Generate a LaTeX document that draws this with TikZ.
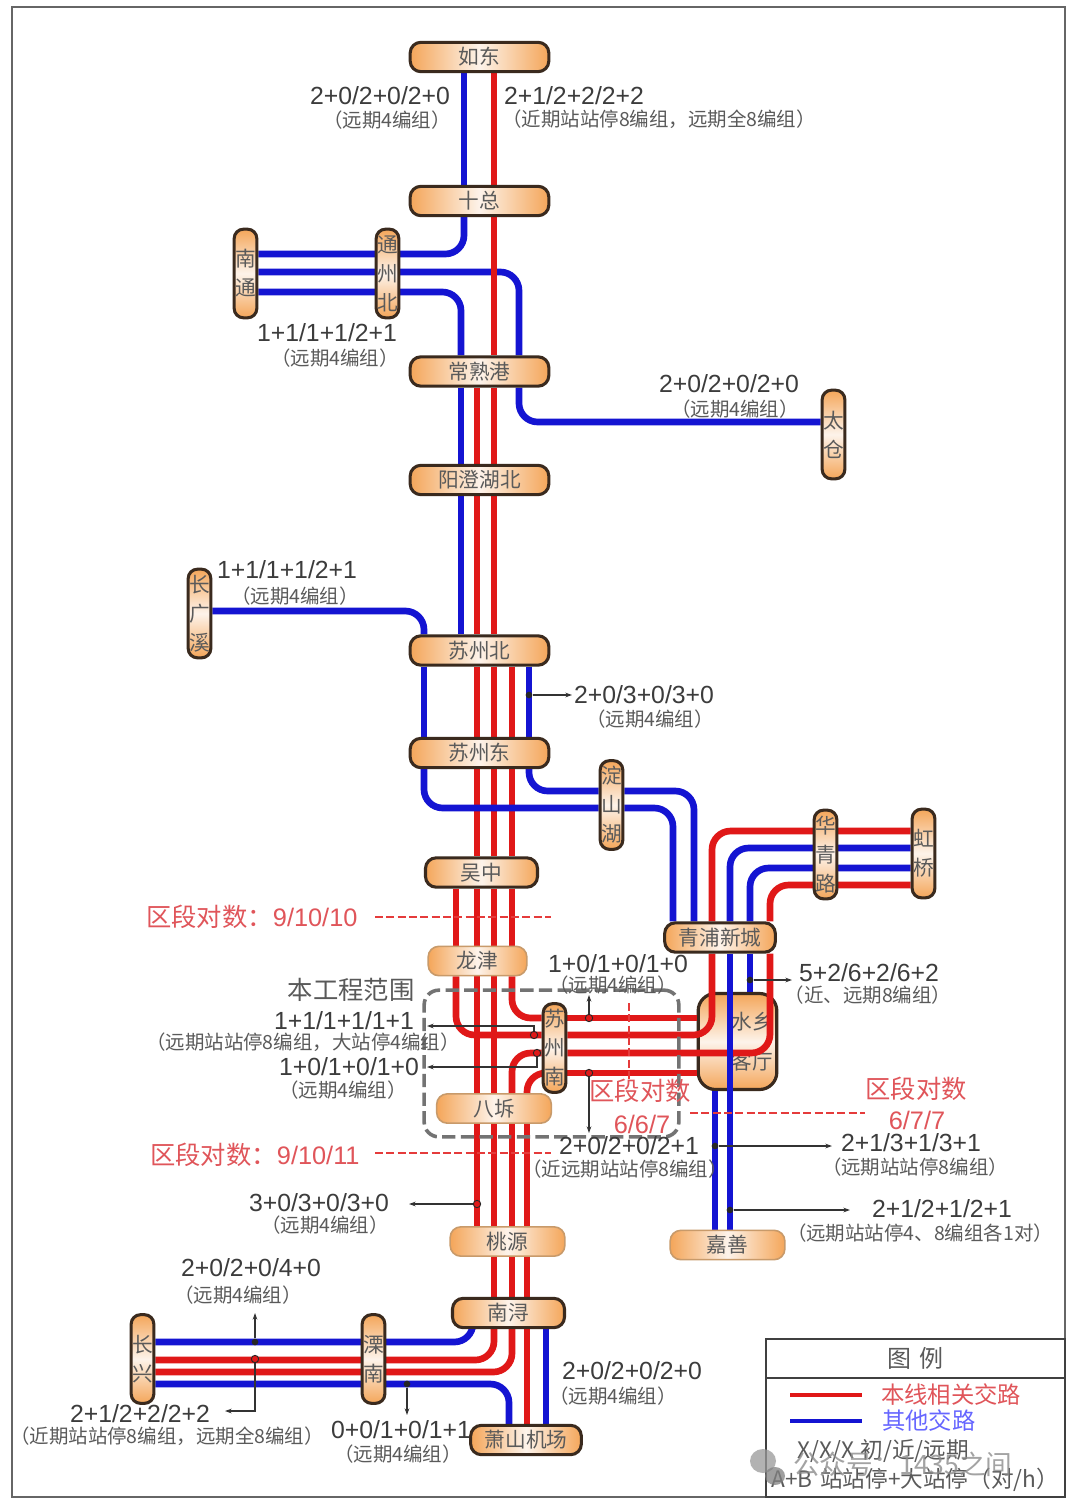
\documentclass[tikz,border=0pt]{standalone}
\usepackage{fontspec}
\setmainfont{Liberation Sans}
\newfontfamily\cjk{Noto Sans CJK SC}
\usetikzlibrary{arrows.meta,backgrounds}
\definecolor{lblue}{HTML}{1414D2}
\definecolor{lred}{HTML}{E01818}
\definecolor{lab}{HTML}{3C3C3C}
\definecolor{notec}{HTML}{5A5A5A}
\definecolor{redt}{HTML}{E0555A}
\definecolor{orng}{HTML}{F4A65A}
\definecolor{midc}{HTML}{FDF3EA}
\definecolor{edge}{HTML}{3A2A1E}
\definecolor{soft}{HTML}{C89A6A}
\newcommand\vtxt[1]{\cjk\fontsize{15.5}{21.75}\selectfont #1}
\tikzset{
  hst/.style={rounded corners=8pt,draw=edge,line width=2.3pt,left color=orng,right color=orng,middle color=midc,
     minimum width=104pt,minimum height=22pt,inner sep=0pt,font=\cjk\fontsize{15.5}{18}\selectfont,text=notec},
  hsoft/.style={hst,draw=soft,line width=1.2pt},
  vst/.style={rounded corners=7pt,draw=edge,line width=2.3pt,top color=orng,bottom color=orng,middle color=midc,
     minimum width=17pt,minimum height=66.5pt,inner sep=0pt,align=center,font=\vtxt{},text=notec},
  bline/.style={draw=lblue,line width=5pt,rounded corners=14pt},
  rline/.style={draw=lred,line width=5pt,rounded corners=14pt},
  num/.style={text=lab,inner sep=0pt,font=\fontsize{18.6}{20}\selectfont},
  note/.style={text=notec,inner sep=0pt,font=\cjk\fontsize{14.6}{16}\selectfont},
  redl/.style={text=redt,inner sep=0pt,font=\cjk\fontsize{19}{20}\selectfont},
  redn/.style={text=redt,inner sep=0pt,font=\fontsize{19}{20}\selectfont},
  reddash/.style={draw=lred!85,line width=2pt,dash pattern=on 6pt off 2.5pt},
  leader/.style={draw=black!80,line width=.8pt,-{Stealth[length=5pt,width=3.5pt]}},
  dotn/.style={circle,fill=black!85,inner sep=0pt,minimum size=5pt},
  dotr/.style={circle,draw=black!85,fill=lred,line width=.7pt,inner sep=0pt,minimum size=5.5pt},
}
\begin{document}
\begin{tikzpicture}[x=0.75pt,y=-0.75pt]
\useasboundingbox (0,0) rectangle (1080,1506);
\foreach \v in {424,456,461,464,473,477,494,509,512,519,527,529,546,673,694,712,715,730,750,770}
  \coordinate (c\v) at (\v,0);
\foreach \v in {254,272,292,422,611,791,808,831,848,868,885,1018,1035,1053,1073,1342,1360,1372,1384}
  \coordinate (r\v) at (0,\v);

% stations
\node[hst] (rudong) at (479.5,57) {如东};
\node[hst] (shizong) at (479.5,201) {十总};
\node[hst] (changshu) at (479.5,371.5) {常熟港};
\node[hst] (yangcheng) at (479.5,480) {阳澄湖北};
\node[hst] (suzhoubei) at (479.5,650.5) {苏州北};
\node[hst] (suzhoudong) at (479.5,753) {苏州东};
\node[hst,minimum width=84pt] (wuzhong) at (481.5,872.5) {吴中};
\node[hsoft,minimum width=74pt] (longjin) at (477.5,961) {龙津};
\node[hsoft,minimum width=86pt] (bachi) at (494,1108.5) {八坼};
\node[hsoft,minimum width=86pt] (taoyuan) at (507.5,1241.5) {桃源};
\node[hst,minimum width=84pt] (nanxun) at (508.5,1313) {南浔};
\node[hst,minimum width=83pt] (xiaoshan) at (526,1440) {萧山机场};
\node[hst,minimum width=83pt] (qingpu) at (720,937.5) {青浦新城};
\node[hsoft,minimum width=86pt] (jiashan) at (727.5,1245) {嘉善};
\node[vst] (nantong) at (245.5,273.5) {南\\通};
\node[vst] (tongzhou) at (387.5,273.5) {通\\州\\北};
\node[vst] (taicang) at (833.5,434.5) {太\\仓};
\node[vst] (changguang) at (199.5,613.5) {长\\广\\溪};
\node[vst] (dianshan) at (611.5,805) {淀\\山\\湖};
\node[vst] (huaqing) at (825.5,854.5) {华\\青\\路};
\node[vst] (hongqiao) at (923.5,853.5) {虹\\桥};
\node[vst] (suzhounan) at (554.5,1048) {苏\\州\\南};
\node[vst] (changxing) at (142.5,1359) {长\\兴};
\node[vst] (linan) at (373.5,1359) {溧\\南};

\begin{scope}[on background layer]
  \fill[white] (0,0) rectangle (1080,1506);
  \draw[draw=black!60,line width=2pt] (12,7) rectangle (1065,1497);
  \node[rounded corners=13pt,draw=edge,line width=2.4pt,top color=orng,bottom color=orng,middle color=midc,
        minimum width=59pt,minimum height=72pt,inner sep=0pt,align=center,font=\cjk\fontsize{15.5}{30}\selectfont,text=notec]
        (shuixiang) at (737.5,1041.5) {\hspace*{22pt}水乡\\\hspace*{22pt}客厅};
  % blue routes
  \draw[bline] (rudong.south-|c464) -- (shizong.north-|c464);
  \draw[bline] (shizong.south-|c464) |- (nantong.east|-r254);
  \draw[bline] (nantong.east|-r272) -| (changshu.north-|c519);
  \draw[bline] (nantong.east|-r292) -| (changshu.north-|c461);
  \draw[bline] (changshu.south-|c519) |- (taicang.west|-r422);
  \draw[bline] (changshu.south-|c461) -- (yangcheng.north-|c461);
  \draw[bline] (yangcheng.south-|c461) -- (suzhoubei.north-|c461);
  \draw[bline] (changguang.east|-r611) -| (suzhoubei.north-|c424);
  \draw[bline] (suzhoubei.south-|c424) -- (suzhoudong.north-|c424);
  \draw[bline] (suzhoubei.south-|c529) -- (suzhoudong.north-|c529);
  \draw[bline] (suzhoudong.south-|c529) |- (dianshan.west|-r791);
  \draw[bline] (dianshan.east|-r791) -| (qingpu.north-|c694);
  \draw[bline] (dianshan.east|-r808) -| (qingpu.north-|c673);
  \draw[bline] (qingpu.north-|c730) |- (hongqiao.west|-r848);
  \draw[bline] (qingpu.north-|c750) |- (hongqiao.west|-r868);
  \draw[bline] (qingpu.south-|c750) -- (shuixiang.north-|c750);
  \draw[bline] (shuixiang.south-|c715) -- (jiashan.north-|c715);
  \draw[bline] (nanxun.south-|c473) |- (changxing.east|-r1342);
  \draw[bline] (changxing.east|-r1384) -| (xiaoshan.north-|c509);
  \draw[bline] (nanxun.south-|c546) -- (xiaoshan.north-|c546);
  % red routes
  \draw[rline] (rudong.south-|c494) -- (shizong.north-|c494);
  \draw[rline] (shizong.south-|c494) -- (changshu.north-|c494);
  \draw[rline] (changshu.south-|c477) -- (yangcheng.north-|c477);
  \draw[rline] (changshu.south-|c494) -- (yangcheng.north-|c494);
  \draw[rline] (yangcheng.south-|c477) -- (suzhoubei.north-|c477);
  \draw[rline] (yangcheng.south-|c494) -- (suzhoubei.north-|c494);
  \foreach \c in {477,494,512}{
    \draw[rline] (suzhoubei.south-|c\c) -- (suzhoudong.north-|c\c);
    \draw[rline] (suzhoudong.south-|c\c) -- (wuzhong.north-|c\c);
  }
  \foreach \c in {456,477,494,512}
    \draw[rline] (wuzhong.south-|c\c) -- (longjin.north-|c\c);
  \draw[rline] (longjin.south-|c477) -- (bachi.north-|c477);
  \draw[rline] (longjin.south-|c494) -- (bachi.north-|c494);
  \draw[rline] (longjin.south-|c456) |- (suzhounan.west|-r1035);
  \draw[rline] (longjin.south-|c512) |- (suzhounan.west|-r1018);
  \draw[rline] (bachi.north-|c512) |- (suzhounan.west|-r1053);
  \draw[rline] (bachi.north-|c527) |- (suzhounan.west|-r1073);
  \draw[rline] (suzhounan.east|-r1018) -- (shuixiang.west|-r1018);
  \draw[rline] (suzhounan.east|-r1073) -- (shuixiang.west|-r1073);
  \draw[rline] (suzhounan.east|-r1035) -| (qingpu.south-|c712);
  \draw[rline] (suzhounan.east|-r1053) -| (qingpu.south-|c770);
  \foreach \c in {477,494,512,527}
    \draw[rline] (bachi.south-|c\c) -- (taoyuan.north-|c\c);
  \foreach \c in {494,512,527}
    \draw[rline] (taoyuan.south-|c\c) -- (nanxun.north-|c\c);
  \draw[rline] (nanxun.south-|c494) |- (changxing.east|-r1360);
  \draw[rline] (nanxun.south-|c512) |- (changxing.east|-r1372);
  \draw[rline] (nanxun.south-|c527) -- (xiaoshan.north-|c527);
  \draw[rline] (qingpu.north-|c712) |- (hongqiao.west|-r831);
  \draw[rline] (qingpu.north-|c770) |- (hongqiao.west|-r885);
  % blue routes lying over red
  \draw[bline] (suzhoudong.south-|c424) |- (dianshan.west|-r808);
  \draw[bline] (qingpu.south-|c730) -- (jiashan.north-|c730);
\end{scope}

% section limits
\coordinate (dA) at (375,917); \coordinate (dB) at (551,917);
\coordinate (dC) at (375,1153); \coordinate (dD) at (551,1153);
\coordinate (dE) at (690,1113); \coordinate (dF) at (865,1113);
\coordinate (dG) at (629,1003); \coordinate (dH) at (629,1082);
\draw[reddash] (dA) -- (dB);
\draw[reddash] (dC) -- (dD);
\draw[reddash] (dE) -- (dF);
\draw[reddash,line width=1.2pt] (dG) -- (dH);

% scope of work
\node[draw=black!55,line width=2.7pt,dash pattern=on 10pt off 4pt,rounded corners=11pt,
      minimum width=191pt,minimum height=110pt,inner sep=0pt] (scopebox) at (551.5,1063.5) {};
\node[text=black!65,inner sep=0pt,font=\cjk\fontsize{19}{22}\selectfont] (scopetxt) at (351,990) {本工程范围};

% leaders
\node[dotn] (d1) at (529,695) {}; \coordinate (e1) at (572,695); \draw[leader] (d1) -- (e1);
\node[dotn] (d2) at (750,980) {}; \coordinate (e2) at (792,980); \draw[leader] (d2) -- (e2);
\node[dotr] (d3) at (589,1018) {}; \coordinate (e3) at (589,995); \draw[leader] (d3) -- (e3);
\node[dotr] (d4) at (534,1035) {}; \coordinate (e4) at (427,1026); \draw[leader] (d4) |- (e4);
\node[dotr] (d5) at (537,1053) {}; \coordinate (e5) at (427,1067); \draw[leader] (d5) |- (e5);
\node[dotr] (d6) at (589,1073) {}; \coordinate (e6) at (589,1133); \draw[leader] (d6) -- (e6);
\node[dotn] (d7) at (715,1146) {}; \coordinate (e7) at (832,1146); \draw[leader] (d7) -- (e7);
\node[dotn] (d8) at (730,1210) {}; \coordinate (e8) at (850,1210); \draw[leader] (d8) -- (e8);
\node[dotr] (d9) at (477,1204) {}; \coordinate (e9) at (409,1204); \draw[leader] (d9) -- (e9);
\node[dotn] (d10) at (255,1342) {}; \coordinate (e10) at (255,1313); \draw[leader] (d10) -- (e10);
\node[dotr] (d11) at (255,1359) {}; \coordinate (e11) at (225,1411); \draw[leader] (d11) |- (e11);
\node[dotn] (d12) at (407,1384) {}; \coordinate (e12) at (407,1415); \draw[leader] (d12) -- (e12);

% labels
\node[num] (t1) at (380,96) {2+0/2+0/2+0};
\node[note] (n1) at (387,120) {（远期4编组）};
\node[num] (t2) at (574,96) {2+1/2+2/2+2};
\node[note,anchor=west] (n2) at (502,119) {（近期站站停8编组，远期全8编组）};
\node[num] (t3) at (327,333) {1+1/1+1/2+1};
\node[note] (n3) at (335,358) {（远期4编组）};
\node[num] (t4) at (729,384) {2+0/2+0/2+0};
\node[note] (n4) at (735,409) {（远期4编组）};
\node[num] (t5) at (287,570) {1+1/1+1/2+1};
\node[note] (n5) at (295,596) {（远期4编组）};
\node[num] (t6) at (644,695) {2+0/3+0/3+0};
\node[note] (n6) at (650,719) {（远期4编组）};
\node[num] (t7) at (618,964) {1+0/1+0/1+0};
\node[note] (n7) at (613,985) {（远期4编组）};
\node[num] (t8) at (869,973) {5+2/6+2/6+2};
\node[note] (n8) at (868,995) {（近、远期8编组）};
\node[num] (t9) at (344,1021) {1+1/1+1/1+1};
\node[note] (n9) at (303,1042) {（远期站站停8编组，大站停4编组）};
\node[num] (t10) at (349,1067) {1+0/1+0/1+0};
\node[note] (n10) at (343,1090) {（远期4编组）};
\node[num] (t11) at (629,1146) {2+0/2+0/2+1};
\node[note] (n11) at (625,1169) {（近远期站站停8编组）};
\node[num] (t12) at (911,1143) {2+1/3+1/3+1};
\node[note] (n12) at (915,1167) {（远期站站停8编组）};
\node[num] (t13) at (942,1209) {2+1/2+1/2+1};
\node[note] (n13) at (920,1233) {（远期站站停4、8编组各1对）};
\node[num] (t14) at (319,1203) {3+0/3+0/3+0};
\node[note] (n14) at (325,1225) {（远期4编组）};
\node[num] (t15) at (251,1268) {2+0/2+0/4+0};
\node[note] (n15) at (238,1295) {（远期4编组）};
\node[num] (t16) at (140,1414) {2+1/2+2/2+2};
\node[note] (n16) at (167,1436) {（近期站站停8编组，远期全8编组）};
\node[num] (t17) at (401,1430) {0+0/1+0/1+1};
\node[note] (n17) at (398,1454) {（远期4编组）};
\node[num] (t18) at (632,1371) {2+0/2+0/2+0};
\node[note] (n18) at (613,1396) {（远期4编组）};

% section counts
\node[redl,anchor=west] (s1) at (146,917) {区段对数：\fontspec{Liberation Sans}9/10/10};
\node[redl,anchor=west] (s2) at (150,1155) {区段对数：\fontspec{Liberation Sans}9/10/11};
\node[redl] (s3) at (640,1091) {区段对数};
\node[redn] (s4) at (642,1124) {6/6/7};
\node[redl] (s5) at (916,1089) {区段对数};
\node[redn] (s6) at (917,1120) {6/7/7};

% legend
\node[draw=black!75,line width=1.6pt,minimum width=224.25pt,minimum height=29.25pt,inner sep=0pt,
      font=\cjk\fontsize{18}{20}\selectfont,text=notec] (legtitle) at (915.5,1358.5) {图\,\,例};
\node[draw=black!75,line width=1.6pt,minimum width=224.25pt,minimum height=89.25pt,inner sep=0pt] (legbody) at (915.5,1437.5) {};
\coordinate (l1a) at (790,1395); \coordinate (l1b) at (862,1395);
\coordinate (l2a) at (790,1421); \coordinate (l2b) at (862,1421);
\draw[draw=lred,line width=3.2pt] (l1a) -- (l1b);
\draw[draw=lblue,line width=3.2pt] (l2a) -- (l2b);
\node[text=redt,inner sep=0pt,anchor=west,font=\cjk\fontsize{17.5}{20}\selectfont] (lt1) at (881,1395) {本线相关交路};
\node[text=blue!60,inner sep=0pt,anchor=west,font=\cjk\fontsize{17.5}{20}\selectfont] (lt2) at (882,1421) {其他交路};
\node[text=notec,inner sep=0pt,anchor=west,font=\cjk\fontsize{17}{18}\selectfont] (lt3) at (797,1451) {X/X/X\hspace{5pt}初/近/远期};
\node[text=notec,inner sep=0pt,anchor=west,font=\cjk\fontsize{17}{18}\selectfont] (lt4) at (771,1480) {A+B\,\,站站停+大站停（对/h）};

% watermark
\fill[black!40,opacity=.75] (763,1461) ellipse [x radius=13,y radius=12];
\fill[black!50,opacity=.75] (775,1476) ellipse [x radius=10,y radius=9];
\node[text=black!45,opacity=.8,inner sep=0pt,anchor=west,font=\cjk\fontsize{20}{22}\selectfont] (wm) at (793,1464) {公众号：1435之间};
\end{tikzpicture}
\end{document}
